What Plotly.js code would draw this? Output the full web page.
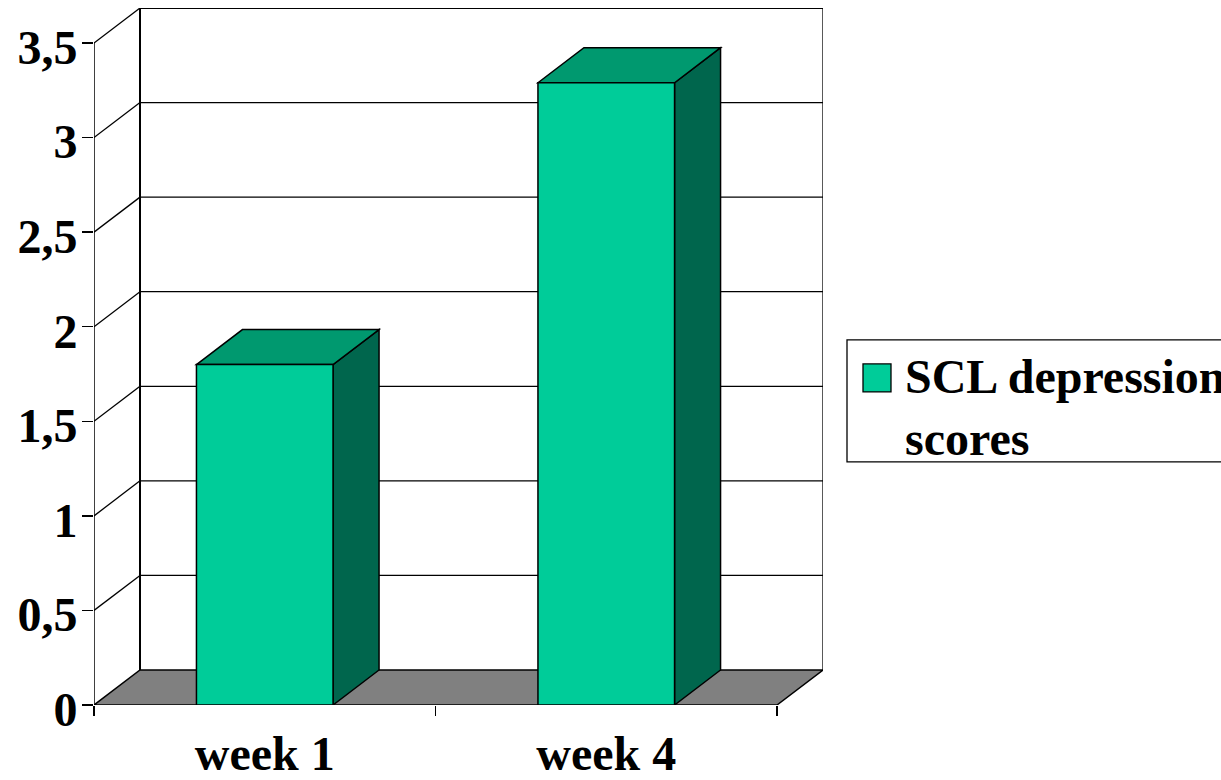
<!DOCTYPE html>
<html>
<head>
<meta charset="utf-8">
<script src="https://cdn.plot.ly/plotly-3.0.1.min.js"></script>
<style>
  html, body { margin: 0; padding: 0; background: #ffffff; }
  #chart { width: 1221px; height: 780px; }
</style>
</head>
<body>
<div id="chart"></div>
<script>
// ---- data ----
const categories = ['week 1', 'week 4'];
const seriesName = 'SCL depression scores';
const scores = [1.8, 3.29];
const yTickVals = [0, 0.5, 1, 1.5, 2, 2.5, 3, 3.5];
const yTickText = ['0', '0,5', '1', '1,5', '2', '2,5', '3', '3,5'];

// ---- styling / geometry ----
const W = 1221, H = 780;
const pxPerCat = 341.5, pxPerUnit = 189.1;
const depthPxX = 46, depthPxY = 35;
const dxU = depthPxX / pxPerCat;
const dyU = depthPxY / pxPerUnit;
const yMax = yTickVals[yTickVals.length - 1];
const nCat = categories.length;
const xLo = -0.5, xHi = nCat - 0.5;
const marginL = 94, marginB = 75;
const plotW = (xHi + dxU - xLo) * pxPerCat;
const plotH = (yMax + dyU) * pxPerUnit;
const marginR = W - marginL - plotW;
const marginT = H - marginB - plotH;
const barW = 0.4;
const colFront = '#00CC99', colTop = '#00996F', colSide = '#00664D', colFloor = '#808080';
const fontFam = '"Liberation Serif", "Times New Roman", serif';
const fontSize = 48;

const xs = categories.map((c, i) => i);
const P = (x, y) => x + ',' + y;

const shapes = [];
// back wall gridlines + left wall diagonals
yTickVals.forEach(v => {
  if (v > 0) {
    shapes.push({type: 'line', xref: 'x', yref: 'y', layer: 'below',
      x0: xLo + dxU, y0: v + dyU, x1: xHi + dxU, y1: v + dyU,
      line: {color: '#000', width: v === yMax ? 2 : 1.3}});
    shapes.push({type: 'line', xref: 'x', yref: 'y', layer: 'below',
      x0: xLo, y0: v, x1: xLo + dxU, y1: v + dyU,
      line: {color: '#000', width: 1.3}});
  }
});
// back wall verticals
[xLo + dxU, xHi + dxU].forEach((xx, k) => {
  shapes.push({type: 'line', xref: 'x', yref: 'y', layer: 'below',
    x0: xx, y0: dyU, x1: xx, y1: yMax + dyU,
    line: {color: '#000', width: k === 0 ? 2 : 1.3}});
});
// floor
shapes.push({type: 'path', xref: 'x', yref: 'y', layer: 'below',
  path: 'M' + P(xLo, 0) + 'L' + P(xLo + dxU, dyU) + 'L' + P(xHi + dxU, dyU) + 'L' + P(xHi, 0) + 'Z',
  fillcolor: colFloor, line: {color: '#000', width: 1.5}});
// front y axis line
shapes.push({type: 'line', xref: 'x', yref: 'y', layer: 'below',
  x0: xLo, y0: 0, x1: xLo, y1: yMax, line: {color: '#000', width: 1.5}});
// bar top & side faces
xs.forEach((x, i) => {
  const v = scores[i];
  const l = x - barW / 2, r = x + barW / 2;
  shapes.push({type: 'path', xref: 'x', yref: 'y', layer: 'below',
    path: 'M' + P(r, 0) + 'L' + P(r, v) + 'L' + P(r + dxU, v + dyU) + 'L' + P(r + dxU, dyU) + 'Z',
    fillcolor: colSide, line: {color: '#000', width: 1.5}});
  shapes.push({type: 'path', xref: 'x', yref: 'y', layer: 'below',
    path: 'M' + P(l, v) + 'L' + P(l + dxU, v + dyU) + 'L' + P(r + dxU, v + dyU) + 'L' + P(r, v) + 'Z',
    fillcolor: colTop, line: {color: '#000', width: 1.5}});
});

// legend (manual) in paper coordinates from pixel positions
const px = p => (p - marginL) / plotW;
const py = p => (H - marginB - p) / plotH;
shapes.push({type: 'rect', xref: 'paper', yref: 'paper', layer: 'above',
  x0: px(847), x1: px(1240), y0: py(462), y1: py(340),
  fillcolor: 'rgba(0,0,0,0)', line: {color: '#000', width: 1.3}});
shapes.push({type: 'rect', xref: 'paper', yref: 'paper', layer: 'above',
  x0: px(863), x1: px(891), y0: py(392), y1: py(364),
  fillcolor: colFront, line: {color: '#000', width: 1.3}});

const annotations = [{
  xref: 'paper', yref: 'paper', x: px(903), y: py(408),
  xanchor: 'left', yanchor: 'middle', align: 'left', showarrow: false,
  text: seriesName.replace(' scores', '<br>scores'),
  font: {family: fontFam, size: fontSize, color: '#000', weight: 'bold'}
}];

const trace = {
  type: 'bar', x: xs, y: scores, width: barW, name: seriesName,
  marker: {color: colFront, line: {color: '#000', width: 1.5}},
  hoverinfo: 'skip', showlegend: false
};

const layout = {
  width: W, height: H,
  margin: {l: marginL, r: marginR, t: marginT, b: marginB, pad: 0},
  paper_bgcolor: '#fff', plot_bgcolor: '#fff',
  showlegend: false,
  font: {family: fontFam, size: fontSize, color: '#000', weight: 'bold'},
  xaxis: {
    type: 'linear', range: [xLo, xHi + dxU], fixedrange: true,
    tickmode: 'array', tickvals: xs, ticktext: categories,
    ticks: '', showgrid: false, zeroline: false, showline: false,
    ticklabelstandoff: 16,
    tickfont: {family: fontFam, size: fontSize, color: '#000', weight: 'bold'},
    minor: {tickmode: 'array', tickvals: xs.map(x => x - 0.5).concat([xHi]),
      ticks: 'outside', ticklen: 10, tickwidth: 1.5, tickcolor: '#000', showgrid: false}
  },
  yaxis: {
    type: 'linear', range: [0, yMax + dyU], fixedrange: true,
    tickmode: 'array', tickvals: yTickVals, ticktext: yTickText,
    ticks: 'outside', ticklen: 11, tickwidth: 1.5, tickcolor: '#000',
    showgrid: false, zeroline: false, showline: false,
    ticklabelstandoff: -5, ticklabelshift: 4,
    tickfont: {family: fontFam, size: fontSize, color: '#000', weight: 'bold'}
  },
  shapes: shapes,
  annotations: annotations
};

Plotly.newPlot('chart', [trace], layout, {displayModeBar: false, staticPlot: true});
</script>
</body>
</html>
